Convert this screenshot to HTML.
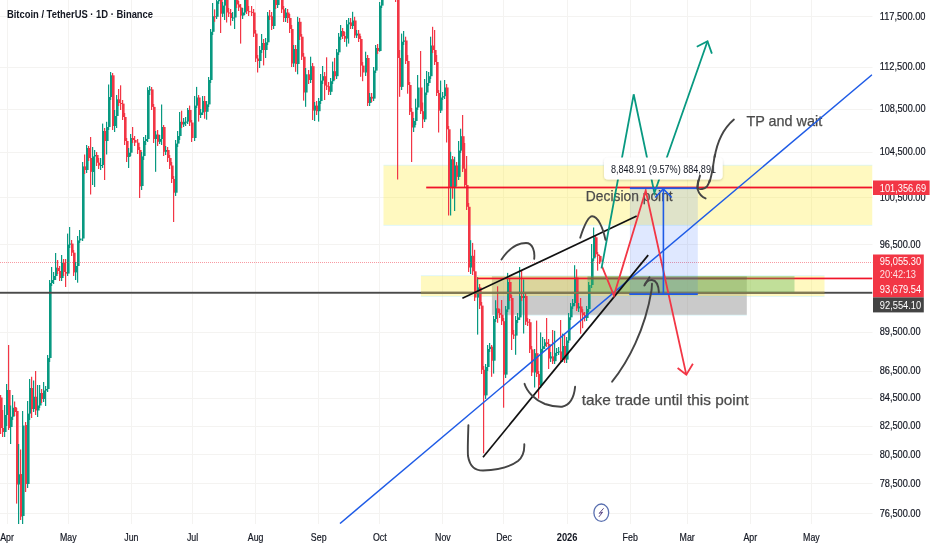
<!DOCTYPE html><html><head><meta charset="utf-8"><style>
html,body{margin:0;padding:0;background:#fff;width:932px;height:550px;overflow:hidden}
svg{display:block;will-change:transform}
text{font-family:"Liberation Sans",sans-serif}
</style></head><body>
<svg width="932" height="550" viewBox="0 0 932 550">
<defs><clipPath id="pane"><rect x="0" y="0" width="872.5" height="524"/></clipPath>
<filter id="sh" x="-10%" y="-30%" width="120%" height="160%"><feDropShadow dx="0" dy="1" stdDeviation="1.2" flood-color="#000" flood-opacity="0.18"/></filter></defs>
<rect width="932" height="550" fill="#fff"/>

<rect x="0" y="16" width="872.5" height="1" fill="#f4f3f1"/><rect x="0" y="67" width="872.5" height="1" fill="#f4f3f1"/><rect x="0" y="109" width="872.5" height="1" fill="#f4f3f1"/><rect x="0" y="152" width="872.5" height="1" fill="#f4f3f1"/><rect x="0" y="197" width="872.5" height="1" fill="#f4f3f1"/><rect x="0" y="244" width="872.5" height="1" fill="#f4f3f1"/><rect x="0" y="293" width="872.5" height="1" fill="#f4f3f1"/><rect x="0" y="332" width="872.5" height="1" fill="#f4f3f1"/><rect x="0" y="371" width="872.5" height="1" fill="#f4f3f1"/><rect x="0" y="398" width="872.5" height="1" fill="#f4f3f1"/><rect x="0" y="426" width="872.5" height="1" fill="#f4f3f1"/><rect x="0" y="454" width="872.5" height="1" fill="#f4f3f1"/><rect x="0" y="483" width="872.5" height="1" fill="#f4f3f1"/><rect x="0" y="513" width="872.5" height="1" fill="#f4f3f1"/><rect x="7" y="0" width="1" height="524" fill="#f4f3f1"/><rect x="68" y="0" width="1" height="524" fill="#f4f3f1"/><rect x="131" y="0" width="1" height="524" fill="#f4f3f1"/><rect x="192" y="0" width="1" height="524" fill="#f4f3f1"/><rect x="255" y="0" width="1" height="524" fill="#f4f3f1"/><rect x="318" y="0" width="1" height="524" fill="#f4f3f1"/><rect x="379" y="0" width="1" height="524" fill="#f4f3f1"/><rect x="442" y="0" width="1" height="524" fill="#f4f3f1"/><rect x="503" y="0" width="1" height="524" fill="#f4f3f1"/><rect x="567" y="0" width="1" height="524" fill="#f4f3f1"/><rect x="630" y="0" width="1" height="524" fill="#f4f3f1"/><rect x="687" y="0" width="1" height="524" fill="#f4f3f1"/><rect x="750" y="0" width="1" height="524" fill="#f4f3f1"/><rect x="811" y="0" width="1" height="524" fill="#f4f3f1"/>
<text x="6.9" y="18.4" font-size="11" font-weight="bold" fill="#131722" textLength="146.2" lengthAdjust="spacingAndGlyphs">Bitcoin / TetherUS · 1D · Binance</text>
<g clip-path="url(#pane)">
<rect x="383.5" y="165.5" width="489.0" height="59.4" fill="rgba(255,235,59,0.32)"/>
<rect x="383.5" y="164.8" width="489.0" height="0.8" fill="rgba(128,222,234,0.30)"/>
<rect x="383.5" y="224.9" width="489.0" height="0.8" fill="rgba(128,222,234,0.30)"/>
<rect x="491.9" y="276" width="254.89999999999998" height="38.80000000000001" fill="rgba(128,128,128,0.42)"/>
<rect x="491.9" y="314.8" width="254.89999999999998" height="0.8" fill="rgba(128,222,234,0.30)"/>
<rect x="420.9" y="276" width="403.6" height="20.1" fill="rgba(255,235,59,0.32)"/>
<rect x="420.9" y="275.3" width="403.6" height="0.8" fill="rgba(128,222,234,0.30)"/>
<rect x="420.9" y="296.1" width="403.6" height="0.8" fill="rgba(128,222,234,0.30)"/>
<g><rect x="-2" y="395.79" width="1.2" height="6.85" fill="#089981"/><rect x="-2" y="397.50" width="2.6" height="2.50" fill="#089981"/><rect x="0" y="395.00" width="1.2" height="39.00" fill="#f23645"/><rect x="0" y="397.50" width="2.6" height="30.50" fill="#f23645"/><rect x="2" y="410.00" width="1.2" height="27.00" fill="#f23645"/><rect x="2" y="428.00" width="2.6" height="4.00" fill="#f23645"/><rect x="4" y="405.00" width="1.2" height="32.00" fill="#089981"/><rect x="4" y="415.00" width="2.6" height="17.00" fill="#089981"/><rect x="6" y="384.00" width="1.2" height="42.00" fill="#089981"/><rect x="6" y="390.00" width="2.6" height="25.00" fill="#089981"/><rect x="8" y="345.00" width="1.2" height="85.00" fill="#f23645"/><rect x="8" y="390.00" width="2.6" height="38.00" fill="#f23645"/><rect x="10" y="405.50" width="1.2" height="38.50" fill="#089981"/><rect x="10" y="416.75" width="2.6" height="10.25" fill="#089981"/><rect x="12" y="395.00" width="1.2" height="25.00" fill="#089981"/><rect x="12" y="407.75" width="2.6" height="9.00" fill="#089981"/><rect x="14" y="401.50" width="1.2" height="14.50" fill="#f23645"/><rect x="14" y="407.00" width="2.6" height="5.00" fill="#f23645"/><rect x="16" y="408.00" width="1.2" height="95.60" fill="#f23645"/><rect x="16" y="411.00" width="2.6" height="73.50" fill="#f23645"/><rect x="18" y="444.00" width="1.2" height="86.00" fill="#089981"/><rect x="18" y="474.30" width="2.6" height="10.20" fill="#089981"/><rect x="20" y="449.50" width="1.2" height="70.50" fill="#f23645"/><rect x="20" y="474.00" width="2.6" height="42.60" fill="#f23645"/><rect x="22" y="411.00" width="1.2" height="119.00" fill="#089981"/><rect x="22" y="425.50" width="2.6" height="90.50" fill="#089981"/><rect x="25" y="422.00" width="1.2" height="70.00" fill="#f23645"/><rect x="25" y="425.00" width="2.6" height="59.00" fill="#f23645"/><rect x="27" y="401.00" width="1.2" height="87.00" fill="#089981"/><rect x="27" y="413.60" width="2.6" height="70.40" fill="#089981"/><rect x="29" y="379.00" width="1.2" height="41.00" fill="#089981"/><rect x="29" y="388.00" width="2.6" height="25.60" fill="#089981"/><rect x="31" y="376.75" width="1.2" height="41.25" fill="#f23645"/><rect x="31" y="388.00" width="2.6" height="21.00" fill="#f23645"/><rect x="33" y="380.50" width="1.2" height="31.50" fill="#089981"/><rect x="33" y="396.75" width="2.6" height="12.25" fill="#089981"/><rect x="35" y="371.00" width="1.2" height="44.00" fill="#f23645"/><rect x="35" y="396.75" width="2.6" height="13.75" fill="#f23645"/><rect x="37" y="385.00" width="1.2" height="32.00" fill="#089981"/><rect x="37" y="405.50" width="2.6" height="5.00" fill="#089981"/><rect x="39" y="385.00" width="1.2" height="23.00" fill="#089981"/><rect x="39" y="393.00" width="2.6" height="12.50" fill="#089981"/><rect x="41" y="389.00" width="1.2" height="14.00" fill="#f23645"/><rect x="41" y="393.00" width="2.6" height="6.00" fill="#f23645"/><rect x="43" y="382.00" width="1.2" height="20.00" fill="#089981"/><rect x="43" y="390.50" width="2.6" height="8.50" fill="#089981"/><rect x="45" y="386.00" width="1.2" height="20.00" fill="#089981"/><rect x="45" y="389.00" width="2.6" height="1.50" fill="#089981"/><rect x="47" y="355.00" width="1.2" height="37.00" fill="#089981"/><rect x="47" y="358.00" width="2.6" height="31.00" fill="#089981"/><rect x="49" y="280.00" width="1.2" height="82.00" fill="#089981"/><rect x="49" y="283.00" width="2.6" height="75.00" fill="#089981"/><rect x="51" y="267.00" width="1.2" height="19.00" fill="#089981"/><rect x="51" y="280.00" width="2.6" height="3.00" fill="#089981"/><rect x="53" y="272.00" width="1.2" height="12.00" fill="#089981"/><rect x="53" y="276.00" width="2.6" height="4.00" fill="#089981"/><rect x="55" y="253.00" width="1.2" height="27.00" fill="#089981"/><rect x="55" y="267.60" width="2.6" height="8.40" fill="#089981"/><rect x="57" y="260.00" width="1.2" height="14.00" fill="#f23645"/><rect x="57" y="268.00" width="2.6" height="3.00" fill="#f23645"/><rect x="59" y="266.00" width="1.2" height="15.00" fill="#f23645"/><rect x="59" y="271.00" width="2.6" height="7.00" fill="#f23645"/><rect x="61" y="255.00" width="1.2" height="26.00" fill="#089981"/><rect x="61" y="263.00" width="2.6" height="15.00" fill="#089981"/><rect x="63" y="259.00" width="1.2" height="17.00" fill="#f23645"/><rect x="63" y="263.00" width="2.6" height="9.00" fill="#f23645"/><rect x="65" y="259.00" width="1.2" height="28.00" fill="#f23645"/><rect x="65" y="272.00" width="2.6" height="1.60" fill="#f23645"/><rect x="67" y="233.60" width="1.2" height="42.40" fill="#089981"/><rect x="67" y="244.50" width="2.6" height="29.10" fill="#089981"/><rect x="69" y="227.00" width="1.2" height="21.00" fill="#089981"/><rect x="69" y="243.60" width="2.6" height="1.00" fill="#089981"/><rect x="71" y="240.00" width="1.2" height="16.00" fill="#f23645"/><rect x="71" y="243.60" width="2.6" height="9.10" fill="#f23645"/><rect x="73" y="250.00" width="1.2" height="26.00" fill="#f23645"/><rect x="73" y="252.70" width="2.6" height="19.70" fill="#f23645"/><rect x="75" y="262.00" width="1.2" height="18.00" fill="#089981"/><rect x="75" y="266.00" width="2.6" height="6.40" fill="#089981"/><rect x="77" y="236.00" width="1.2" height="46.70" fill="#089981"/><rect x="77" y="240.40" width="2.6" height="25.60" fill="#089981"/><rect x="79" y="230.00" width="1.2" height="13.00" fill="#089981"/><rect x="79" y="238.50" width="2.6" height="1.90" fill="#089981"/><rect x="82" y="162.00" width="1.2" height="79.00" fill="#089981"/><rect x="82" y="166.40" width="2.6" height="72.10" fill="#089981"/><rect x="84" y="154.50" width="1.2" height="19.50" fill="#f23645"/><rect x="84" y="166.40" width="2.6" height="3.60" fill="#f23645"/><rect x="86" y="145.00" width="1.2" height="28.00" fill="#089981"/><rect x="86" y="148.00" width="2.6" height="22.00" fill="#089981"/><rect x="88" y="146.00" width="1.2" height="15.00" fill="#f23645"/><rect x="88" y="148.00" width="2.6" height="10.00" fill="#f23645"/><rect x="90" y="137.00" width="1.2" height="57.50" fill="#f23645"/><rect x="90" y="158.00" width="2.6" height="13.80" fill="#f23645"/><rect x="92" y="147.00" width="1.2" height="38.00" fill="#089981"/><rect x="92" y="156.40" width="2.6" height="15.60" fill="#089981"/><rect x="94" y="150.00" width="1.2" height="37.00" fill="#089981"/><rect x="94" y="155.00" width="2.6" height="1.40" fill="#089981"/><rect x="96" y="152.00" width="1.2" height="14.00" fill="#f23645"/><rect x="96" y="155.00" width="2.6" height="7.70" fill="#f23645"/><rect x="98" y="158.00" width="1.2" height="11.00" fill="#f23645"/><rect x="98" y="162.70" width="2.6" height="2.80" fill="#f23645"/><rect x="100" y="158.00" width="1.2" height="12.00" fill="#089981"/><rect x="100" y="165.00" width="2.6" height="1.00" fill="#089981"/><rect x="102" y="123.60" width="1.2" height="44.40" fill="#089981"/><rect x="102" y="131.00" width="2.6" height="34.00" fill="#089981"/><rect x="104" y="128.00" width="1.2" height="52.00" fill="#f23645"/><rect x="104" y="131.00" width="2.6" height="10.00" fill="#f23645"/><rect x="106" y="121.80" width="1.2" height="32.70" fill="#089981"/><rect x="106" y="127.00" width="2.6" height="14.00" fill="#089981"/><rect x="108" y="84.50" width="1.2" height="45.50" fill="#089981"/><rect x="108" y="97.00" width="2.6" height="30.00" fill="#089981"/><rect x="110" y="72.00" width="1.2" height="28.00" fill="#089981"/><rect x="110" y="75.30" width="2.6" height="21.70" fill="#089981"/><rect x="112" y="73.00" width="1.2" height="57.00" fill="#f23645"/><rect x="112" y="75.30" width="2.6" height="50.70" fill="#f23645"/><rect x="114" y="110.00" width="1.2" height="22.00" fill="#089981"/><rect x="114" y="116.00" width="2.6" height="10.00" fill="#089981"/><rect x="116" y="95.00" width="1.2" height="33.00" fill="#089981"/><rect x="116" y="99.30" width="2.6" height="16.70" fill="#089981"/><rect x="118" y="89.00" width="1.2" height="17.00" fill="#f23645"/><rect x="118" y="99.30" width="2.6" height="3.70" fill="#f23645"/><rect x="120" y="85.30" width="1.2" height="24.70" fill="#f23645"/><rect x="120" y="103.00" width="2.6" height="1.00" fill="#f23645"/><rect x="122" y="100.00" width="1.2" height="20.00" fill="#f23645"/><rect x="122" y="103.60" width="2.6" height="13.40" fill="#f23645"/><rect x="124" y="113.00" width="1.2" height="32.00" fill="#f23645"/><rect x="124" y="117.00" width="2.6" height="24.00" fill="#f23645"/><rect x="126" y="138.00" width="1.2" height="24.00" fill="#f23645"/><rect x="126" y="141.00" width="2.6" height="16.00" fill="#f23645"/><rect x="128" y="148.00" width="1.2" height="20.00" fill="#089981"/><rect x="128" y="152.70" width="2.6" height="4.30" fill="#089981"/><rect x="130" y="134.00" width="1.2" height="22.00" fill="#089981"/><rect x="130" y="138.00" width="2.6" height="14.70" fill="#089981"/><rect x="132" y="127.00" width="1.2" height="16.00" fill="#f23645"/><rect x="132" y="138.00" width="2.6" height="2.00" fill="#f23645"/><rect x="134" y="136.00" width="1.2" height="10.00" fill="#f23645"/><rect x="134" y="140.00" width="2.6" height="2.70" fill="#f23645"/><rect x="137" y="139.00" width="1.2" height="15.00" fill="#f23645"/><rect x="137" y="142.70" width="2.6" height="7.30" fill="#f23645"/><rect x="139" y="147.00" width="1.2" height="51.00" fill="#f23645"/><rect x="139" y="150.00" width="2.6" height="36.40" fill="#f23645"/><rect x="141" y="152.00" width="1.2" height="38.00" fill="#089981"/><rect x="141" y="156.40" width="2.6" height="29.60" fill="#089981"/><rect x="143" y="137.00" width="1.2" height="23.00" fill="#089981"/><rect x="143" y="141.00" width="2.6" height="15.00" fill="#089981"/><rect x="145" y="135.00" width="1.2" height="10.00" fill="#089981"/><rect x="145" y="139.00" width="2.6" height="2.00" fill="#089981"/><rect x="147" y="87.30" width="1.2" height="54.70" fill="#089981"/><rect x="147" y="90.00" width="2.6" height="49.00" fill="#089981"/><rect x="149" y="86.00" width="1.2" height="9.00" fill="#089981"/><rect x="149" y="89.40" width="2.6" height="1.00" fill="#089981"/><rect x="151" y="87.00" width="1.2" height="23.00" fill="#f23645"/><rect x="151" y="89.40" width="2.6" height="17.50" fill="#f23645"/><rect x="153" y="104.00" width="1.2" height="39.00" fill="#f23645"/><rect x="153" y="106.90" width="2.6" height="32.10" fill="#f23645"/><rect x="155" y="131.00" width="1.2" height="40.80" fill="#089981"/><rect x="155" y="134.50" width="2.6" height="4.50" fill="#089981"/><rect x="157" y="130.00" width="1.2" height="16.00" fill="#f23645"/><rect x="157" y="134.50" width="2.6" height="7.30" fill="#f23645"/><rect x="159" y="135.00" width="1.2" height="9.00" fill="#089981"/><rect x="159" y="139.00" width="2.6" height="2.80" fill="#089981"/><rect x="161" y="104.50" width="1.2" height="40.50" fill="#089981"/><rect x="161" y="127.00" width="2.6" height="12.00" fill="#089981"/><rect x="163" y="125.00" width="1.2" height="31.00" fill="#f23645"/><rect x="163" y="127.00" width="2.6" height="24.80" fill="#f23645"/><rect x="165" y="146.00" width="1.2" height="9.00" fill="#089981"/><rect x="165" y="150.00" width="2.6" height="1.80" fill="#089981"/><rect x="167" y="147.00" width="1.2" height="15.00" fill="#f23645"/><rect x="167" y="150.00" width="2.6" height="8.00" fill="#f23645"/><rect x="169" y="155.00" width="1.2" height="14.00" fill="#f23645"/><rect x="169" y="158.00" width="2.6" height="7.50" fill="#f23645"/><rect x="171" y="162.00" width="1.2" height="21.00" fill="#f23645"/><rect x="171" y="165.50" width="2.6" height="13.50" fill="#f23645"/><rect x="173" y="176.00" width="1.2" height="46.00" fill="#f23645"/><rect x="173" y="179.00" width="2.6" height="13.70" fill="#f23645"/><rect x="175" y="140.00" width="1.2" height="56.00" fill="#089981"/><rect x="175" y="143.60" width="2.6" height="49.10" fill="#089981"/><rect x="177" y="131.00" width="1.2" height="16.00" fill="#089981"/><rect x="177" y="136.00" width="2.6" height="7.60" fill="#089981"/><rect x="179" y="112.00" width="1.2" height="28.00" fill="#089981"/><rect x="179" y="121.80" width="2.6" height="14.20" fill="#089981"/><rect x="181" y="110.70" width="1.2" height="17.30" fill="#f23645"/><rect x="181" y="121.80" width="2.6" height="2.70" fill="#f23645"/><rect x="183" y="118.00" width="1.2" height="9.00" fill="#089981"/><rect x="183" y="121.80" width="2.6" height="2.70" fill="#089981"/><rect x="185" y="117.00" width="1.2" height="9.00" fill="#089981"/><rect x="185" y="121.60" width="2.6" height="1.00" fill="#089981"/><rect x="187" y="108.00" width="1.2" height="16.00" fill="#089981"/><rect x="187" y="110.00" width="2.6" height="11.60" fill="#089981"/><rect x="189" y="105.60" width="1.2" height="20.40" fill="#f23645"/><rect x="189" y="110.00" width="2.6" height="12.50" fill="#f23645"/><rect x="191" y="120.00" width="1.2" height="22.00" fill="#f23645"/><rect x="191" y="122.50" width="2.6" height="15.50" fill="#f23645"/><rect x="194" y="96.00" width="1.2" height="45.00" fill="#089981"/><rect x="194" y="105.60" width="2.6" height="32.40" fill="#089981"/><rect x="196" y="86.90" width="1.2" height="21.10" fill="#089981"/><rect x="196" y="97.50" width="2.6" height="8.10" fill="#089981"/><rect x="198" y="95.00" width="1.2" height="26.60" fill="#f23645"/><rect x="198" y="97.50" width="2.6" height="17.50" fill="#f23645"/><rect x="200" y="109.00" width="1.2" height="9.00" fill="#089981"/><rect x="200" y="112.50" width="2.6" height="2.50" fill="#089981"/><rect x="202" y="96.00" width="1.2" height="19.00" fill="#089981"/><rect x="202" y="101.00" width="2.6" height="11.50" fill="#089981"/><rect x="204" y="96.00" width="1.2" height="22.70" fill="#f23645"/><rect x="204" y="101.00" width="2.6" height="10.80" fill="#f23645"/><rect x="206" y="101.00" width="1.2" height="18.70" fill="#089981"/><rect x="206" y="104.40" width="2.6" height="7.40" fill="#089981"/><rect x="208" y="77.00" width="1.2" height="30.00" fill="#089981"/><rect x="208" y="80.00" width="2.6" height="24.40" fill="#089981"/><rect x="210" y="29.00" width="1.2" height="54.00" fill="#089981"/><rect x="210" y="31.80" width="2.6" height="48.20" fill="#089981"/><rect x="212" y="3.00" width="1.2" height="32.00" fill="#089981"/><rect x="212" y="16.20" width="2.6" height="15.60" fill="#089981"/><rect x="214" y="9.40" width="1.2" height="12.40" fill="#f23645"/><rect x="214" y="16.20" width="2.6" height="1.00" fill="#f23645"/><rect x="216" y="-3.00" width="1.2" height="22.00" fill="#089981"/><rect x="216" y="1.20" width="2.6" height="15.60" fill="#089981"/><rect x="218" y="-12.00" width="1.2" height="16.00" fill="#089981"/><rect x="218" y="-7.50" width="2.6" height="8.70" fill="#089981"/><rect x="220" y="-10.00" width="1.2" height="43.00" fill="#f23645"/><rect x="220" y="-7.50" width="2.6" height="21.20" fill="#f23645"/><rect x="222" y="2.00" width="1.2" height="15.00" fill="#089981"/><rect x="222" y="5.60" width="2.6" height="8.10" fill="#089981"/><rect x="224" y="-5.00" width="1.2" height="25.00" fill="#089981"/><rect x="224" y="-1.70" width="2.6" height="7.30" fill="#089981"/><rect x="226" y="-4.00" width="1.2" height="26.50" fill="#f23645"/><rect x="226" y="-1.70" width="2.6" height="14.20" fill="#f23645"/><rect x="228" y="8.00" width="1.2" height="9.00" fill="#f23645"/><rect x="228" y="12.50" width="2.6" height="1.00" fill="#f23645"/><rect x="230" y="9.00" width="1.2" height="16.60" fill="#f23645"/><rect x="230" y="13.00" width="2.6" height="5.00" fill="#f23645"/><rect x="232" y="12.00" width="1.2" height="9.00" fill="#089981"/><rect x="232" y="17.50" width="2.6" height="1.00" fill="#089981"/><rect x="234" y="-14.00" width="1.2" height="43.00" fill="#089981"/><rect x="234" y="-10.00" width="2.6" height="27.50" fill="#089981"/><rect x="236" y="-12.00" width="1.2" height="20.00" fill="#f23645"/><rect x="236" y="-10.00" width="2.6" height="14.40" fill="#f23645"/><rect x="238" y="1.00" width="1.2" height="10.00" fill="#f23645"/><rect x="238" y="4.40" width="2.6" height="3.10" fill="#f23645"/><rect x="240" y="4.00" width="1.2" height="39.60" fill="#f23645"/><rect x="240" y="7.50" width="2.6" height="8.10" fill="#f23645"/><rect x="242" y="8.00" width="1.2" height="11.00" fill="#089981"/><rect x="242" y="12.50" width="2.6" height="3.10" fill="#089981"/><rect x="244" y="-7.00" width="1.2" height="22.00" fill="#089981"/><rect x="244" y="-3.60" width="2.6" height="16.10" fill="#089981"/><rect x="246" y="-6.00" width="1.2" height="20.00" fill="#f23645"/><rect x="246" y="-3.60" width="2.6" height="14.80" fill="#f23645"/><rect x="248" y="6.00" width="1.2" height="10.00" fill="#f23645"/><rect x="248" y="11.20" width="2.6" height="1.00" fill="#f23645"/><rect x="251" y="6.00" width="1.2" height="10.00" fill="#f23645"/><rect x="251" y="11.90" width="2.6" height="1.00" fill="#f23645"/><rect x="253" y="9.00" width="1.2" height="28.00" fill="#f23645"/><rect x="253" y="12.50" width="2.6" height="21.10" fill="#f23645"/><rect x="255" y="30.00" width="1.2" height="32.00" fill="#f23645"/><rect x="255" y="33.60" width="2.6" height="24.90" fill="#f23645"/><rect x="257" y="55.00" width="1.2" height="17.50" fill="#f23645"/><rect x="257" y="58.50" width="2.6" height="2.50" fill="#f23645"/><rect x="259" y="46.00" width="1.2" height="22.00" fill="#089981"/><rect x="259" y="50.00" width="2.6" height="11.00" fill="#089981"/><rect x="261" y="34.00" width="1.2" height="19.00" fill="#089981"/><rect x="261" y="43.00" width="2.6" height="7.00" fill="#089981"/><rect x="263" y="39.00" width="1.2" height="26.40" fill="#f23645"/><rect x="263" y="43.00" width="2.6" height="7.00" fill="#f23645"/><rect x="265" y="38.00" width="1.2" height="20.00" fill="#089981"/><rect x="265" y="42.30" width="2.6" height="7.70" fill="#089981"/><rect x="267" y="12.00" width="1.2" height="33.00" fill="#089981"/><rect x="267" y="15.60" width="2.6" height="26.70" fill="#089981"/><rect x="269" y="10.00" width="1.2" height="10.00" fill="#f23645"/><rect x="269" y="15.60" width="2.6" height="1.00" fill="#f23645"/><rect x="271" y="12.00" width="1.2" height="18.00" fill="#f23645"/><rect x="271" y="16.20" width="2.6" height="9.80" fill="#f23645"/><rect x="273" y="-6.00" width="1.2" height="35.00" fill="#089981"/><rect x="273" y="-2.60" width="2.6" height="28.60" fill="#089981"/><rect x="275" y="-6.00" width="1.2" height="15.00" fill="#f23645"/><rect x="275" y="-2.60" width="2.6" height="7.60" fill="#f23645"/><rect x="277" y="-15.00" width="1.2" height="23.00" fill="#089981"/><rect x="277" y="-11.70" width="2.6" height="16.70" fill="#089981"/><rect x="279" y="-50.00" width="1.2" height="42.00" fill="#089981"/><rect x="279" y="-41.00" width="2.6" height="29.30" fill="#089981"/><rect x="281" y="-45.00" width="1.2" height="58.00" fill="#f23645"/><rect x="281" y="-41.00" width="2.6" height="50.40" fill="#f23645"/><rect x="283" y="6.00" width="1.2" height="16.00" fill="#f23645"/><rect x="283" y="9.40" width="2.6" height="8.60" fill="#f23645"/><rect x="285" y="8.00" width="1.2" height="14.00" fill="#089981"/><rect x="285" y="12.50" width="2.6" height="5.50" fill="#089981"/><rect x="287" y="9.00" width="1.2" height="14.00" fill="#f23645"/><rect x="287" y="12.50" width="2.6" height="5.50" fill="#f23645"/><rect x="289" y="14.00" width="1.2" height="19.00" fill="#f23645"/><rect x="289" y="18.00" width="2.6" height="11.00" fill="#f23645"/><rect x="291" y="25.00" width="1.2" height="42.00" fill="#f23645"/><rect x="291" y="29.00" width="2.6" height="34.50" fill="#f23645"/><rect x="293" y="45.00" width="1.2" height="22.00" fill="#089981"/><rect x="293" y="49.00" width="2.6" height="14.50" fill="#089981"/><rect x="295" y="45.00" width="1.2" height="26.80" fill="#f23645"/><rect x="295" y="49.00" width="2.6" height="15.00" fill="#f23645"/><rect x="297" y="16.80" width="1.2" height="57.50" fill="#089981"/><rect x="297" y="21.80" width="2.6" height="42.20" fill="#089981"/><rect x="299" y="18.00" width="1.2" height="22.00" fill="#f23645"/><rect x="299" y="21.80" width="2.6" height="14.90" fill="#f23645"/><rect x="301" y="34.00" width="1.2" height="26.00" fill="#f23645"/><rect x="301" y="36.70" width="2.6" height="20.00" fill="#f23645"/><rect x="303" y="53.00" width="1.2" height="47.60" fill="#f23645"/><rect x="303" y="56.70" width="2.6" height="35.80" fill="#f23645"/><rect x="305" y="68.00" width="1.2" height="38.80" fill="#089981"/><rect x="305" y="74.30" width="2.6" height="18.20" fill="#089981"/><rect x="308" y="70.00" width="1.2" height="14.00" fill="#f23645"/><rect x="308" y="74.30" width="2.6" height="5.70" fill="#f23645"/><rect x="310" y="56.70" width="1.2" height="26.30" fill="#089981"/><rect x="310" y="66.20" width="2.6" height="13.80" fill="#089981"/><rect x="312" y="63.00" width="1.2" height="57.00" fill="#f23645"/><rect x="312" y="66.20" width="2.6" height="44.40" fill="#f23645"/><rect x="314" y="102.00" width="1.2" height="19.00" fill="#089981"/><rect x="314" y="105.60" width="2.6" height="5.00" fill="#089981"/><rect x="316" y="101.00" width="1.2" height="14.00" fill="#f23645"/><rect x="316" y="105.60" width="2.6" height="5.60" fill="#f23645"/><rect x="318" y="98.00" width="1.2" height="23.60" fill="#089981"/><rect x="318" y="101.00" width="2.6" height="10.20" fill="#089981"/><rect x="320" y="74.00" width="1.2" height="30.00" fill="#089981"/><rect x="320" y="80.60" width="2.6" height="20.40" fill="#089981"/><rect x="322" y="66.00" width="1.2" height="18.00" fill="#089981"/><rect x="322" y="76.20" width="2.6" height="4.40" fill="#089981"/><rect x="324" y="72.00" width="1.2" height="28.00" fill="#f23645"/><rect x="324" y="76.20" width="2.6" height="9.40" fill="#f23645"/><rect x="326" y="57.30" width="1.2" height="32.70" fill="#f23645"/><rect x="326" y="85.60" width="2.6" height="1.00" fill="#f23645"/><rect x="328" y="82.00" width="1.2" height="13.00" fill="#f23645"/><rect x="328" y="86.20" width="2.6" height="5.60" fill="#f23645"/><rect x="330" y="78.00" width="1.2" height="17.00" fill="#089981"/><rect x="330" y="81.20" width="2.6" height="10.60" fill="#089981"/><rect x="332" y="61.60" width="1.2" height="22.40" fill="#089981"/><rect x="332" y="71.20" width="2.6" height="10.00" fill="#089981"/><rect x="334" y="57.90" width="1.2" height="22.10" fill="#f23645"/><rect x="334" y="71.20" width="2.6" height="5.00" fill="#f23645"/><rect x="336" y="49.00" width="1.2" height="30.00" fill="#089981"/><rect x="336" y="52.30" width="2.6" height="23.90" fill="#089981"/><rect x="338" y="33.00" width="1.2" height="22.00" fill="#089981"/><rect x="338" y="36.70" width="2.6" height="15.60" fill="#089981"/><rect x="340" y="25.00" width="1.2" height="15.00" fill="#089981"/><rect x="340" y="31.00" width="2.6" height="5.70" fill="#089981"/><rect x="342" y="28.00" width="1.2" height="11.00" fill="#f23645"/><rect x="342" y="31.00" width="2.6" height="5.00" fill="#f23645"/><rect x="344" y="32.00" width="1.2" height="10.00" fill="#f23645"/><rect x="344" y="36.00" width="2.6" height="2.60" fill="#f23645"/><rect x="346" y="20.00" width="1.2" height="26.70" fill="#089981"/><rect x="346" y="24.30" width="2.6" height="14.30" fill="#089981"/><rect x="348" y="18.00" width="1.2" height="25.60" fill="#089981"/><rect x="348" y="22.40" width="2.6" height="1.90" fill="#089981"/><rect x="350" y="18.00" width="1.2" height="11.00" fill="#f23645"/><rect x="350" y="22.40" width="2.6" height="3.60" fill="#f23645"/><rect x="352" y="11.80" width="1.2" height="17.20" fill="#089981"/><rect x="352" y="20.50" width="2.6" height="5.50" fill="#089981"/><rect x="354" y="16.80" width="1.2" height="21.20" fill="#f23645"/><rect x="354" y="20.50" width="2.6" height="15.00" fill="#f23645"/><rect x="356" y="30.00" width="1.2" height="8.00" fill="#089981"/><rect x="356" y="33.60" width="2.6" height="1.90" fill="#089981"/><rect x="358" y="30.00" width="1.2" height="12.00" fill="#f23645"/><rect x="358" y="33.60" width="2.6" height="5.40" fill="#f23645"/><rect x="360" y="36.00" width="1.2" height="40.80" fill="#f23645"/><rect x="360" y="39.00" width="2.6" height="26.60" fill="#f23645"/><rect x="362" y="62.00" width="1.2" height="19.20" fill="#f23645"/><rect x="362" y="65.60" width="2.6" height="6.90" fill="#f23645"/><rect x="365" y="51.70" width="1.2" height="24.30" fill="#089981"/><rect x="365" y="58.00" width="2.6" height="14.50" fill="#089981"/><rect x="367" y="55.00" width="1.2" height="51.00" fill="#f23645"/><rect x="367" y="58.00" width="2.6" height="45.00" fill="#f23645"/><rect x="369" y="93.00" width="1.2" height="13.00" fill="#089981"/><rect x="369" y="96.80" width="2.6" height="6.20" fill="#089981"/><rect x="371" y="93.00" width="1.2" height="9.00" fill="#f23645"/><rect x="371" y="96.80" width="2.6" height="1.80" fill="#f23645"/><rect x="373" y="67.00" width="1.2" height="34.00" fill="#089981"/><rect x="373" y="70.60" width="2.6" height="28.00" fill="#089981"/><rect x="375" y="45.00" width="1.2" height="28.00" fill="#089981"/><rect x="375" y="48.00" width="2.6" height="22.60" fill="#089981"/><rect x="377" y="44.00" width="1.2" height="10.00" fill="#f23645"/><rect x="377" y="48.00" width="2.6" height="3.00" fill="#f23645"/><rect x="379" y="2.00" width="1.2" height="49.70" fill="#089981"/><rect x="379" y="5.60" width="2.6" height="45.40" fill="#089981"/><rect x="381" y="-18.00" width="1.2" height="26.00" fill="#089981"/><rect x="381" y="-14.00" width="2.6" height="19.60" fill="#089981"/><rect x="383" y="-34.00" width="1.2" height="24.00" fill="#089981"/><rect x="383" y="-30.00" width="2.6" height="16.00" fill="#089981"/><rect x="385" y="-36.00" width="1.2" height="11.00" fill="#089981"/><rect x="385" y="-30.00" width="2.6" height="1.00" fill="#089981"/><rect x="387" y="-45.00" width="1.2" height="19.00" fill="#089981"/><rect x="387" y="-40.00" width="2.6" height="10.00" fill="#089981"/><rect x="389" y="-60.00" width="1.2" height="25.00" fill="#089981"/><rect x="389" y="-50.00" width="2.6" height="10.00" fill="#089981"/><rect x="391" y="-55.00" width="1.2" height="40.00" fill="#f23645"/><rect x="391" y="-50.00" width="2.6" height="28.00" fill="#f23645"/><rect x="393" y="-42.00" width="1.2" height="24.00" fill="#089981"/><rect x="393" y="-38.00" width="2.6" height="16.00" fill="#089981"/><rect x="395" y="-42.00" width="1.2" height="44.00" fill="#f23645"/><rect x="395" y="-38.00" width="2.6" height="36.70" fill="#f23645"/><rect x="397" y="-8.00" width="1.2" height="187.50" fill="#f23645"/><rect x="397" y="-1.30" width="2.6" height="59.30" fill="#f23645"/><rect x="399" y="50.00" width="1.2" height="46.80" fill="#f23645"/><rect x="399" y="58.00" width="2.6" height="28.90" fill="#f23645"/><rect x="401" y="33.60" width="1.2" height="56.40" fill="#089981"/><rect x="401" y="41.70" width="2.6" height="45.20" fill="#089981"/><rect x="403" y="31.00" width="1.2" height="14.00" fill="#089981"/><rect x="403" y="40.50" width="2.6" height="1.20" fill="#089981"/><rect x="405" y="36.70" width="1.2" height="27.30" fill="#f23645"/><rect x="405" y="40.50" width="2.6" height="20.50" fill="#f23645"/><rect x="407" y="55.00" width="1.2" height="38.70" fill="#f23645"/><rect x="407" y="61.00" width="2.6" height="24.00" fill="#f23645"/><rect x="409" y="82.00" width="1.2" height="33.00" fill="#f23645"/><rect x="409" y="85.00" width="2.6" height="26.80" fill="#f23645"/><rect x="411" y="108.00" width="1.2" height="54.00" fill="#f23645"/><rect x="411" y="111.80" width="2.6" height="15.70" fill="#f23645"/><rect x="413" y="118.00" width="1.2" height="14.00" fill="#089981"/><rect x="413" y="121.00" width="2.6" height="6.50" fill="#089981"/><rect x="415" y="98.70" width="1.2" height="26.30" fill="#089981"/><rect x="415" y="107.50" width="2.6" height="13.50" fill="#089981"/><rect x="417" y="75.00" width="1.2" height="35.00" fill="#089981"/><rect x="417" y="87.50" width="2.6" height="20.00" fill="#089981"/><rect x="420" y="51.00" width="1.2" height="63.00" fill="#f23645"/><rect x="420" y="87.50" width="2.6" height="23.70" fill="#f23645"/><rect x="422" y="102.50" width="1.2" height="25.50" fill="#f23645"/><rect x="422" y="111.20" width="2.6" height="8.20" fill="#f23645"/><rect x="424" y="79.00" width="1.2" height="43.00" fill="#089981"/><rect x="424" y="92.50" width="2.6" height="26.90" fill="#089981"/><rect x="426" y="71.00" width="1.2" height="24.00" fill="#089981"/><rect x="426" y="83.00" width="2.6" height="9.50" fill="#089981"/><rect x="428" y="72.00" width="1.2" height="14.00" fill="#089981"/><rect x="428" y="76.20" width="2.6" height="6.80" fill="#089981"/><rect x="430" y="36.70" width="1.2" height="42.30" fill="#089981"/><rect x="430" y="45.50" width="2.6" height="30.70" fill="#089981"/><rect x="432" y="26.80" width="1.2" height="26.20" fill="#f23645"/><rect x="432" y="45.50" width="2.6" height="4.50" fill="#f23645"/><rect x="434" y="30.00" width="1.2" height="35.00" fill="#f23645"/><rect x="434" y="50.00" width="2.6" height="12.00" fill="#f23645"/><rect x="436" y="55.00" width="1.2" height="41.00" fill="#f23645"/><rect x="436" y="62.00" width="2.6" height="31.00" fill="#f23645"/><rect x="438" y="90.00" width="1.2" height="42.50" fill="#f23645"/><rect x="438" y="93.00" width="2.6" height="17.60" fill="#f23645"/><rect x="440" y="80.60" width="1.2" height="32.40" fill="#089981"/><rect x="440" y="97.50" width="2.6" height="13.10" fill="#089981"/><rect x="442" y="92.00" width="1.2" height="8.00" fill="#089981"/><rect x="442" y="96.20" width="2.6" height="1.30" fill="#089981"/><rect x="444" y="80.00" width="1.2" height="19.00" fill="#089981"/><rect x="444" y="87.50" width="2.6" height="8.70" fill="#089981"/><rect x="446" y="84.00" width="1.2" height="58.50" fill="#f23645"/><rect x="446" y="87.50" width="2.6" height="41.80" fill="#f23645"/><rect x="448" y="126.00" width="1.2" height="89.50" fill="#f23645"/><rect x="448" y="129.30" width="2.6" height="57.70" fill="#f23645"/><rect x="450" y="151.80" width="1.2" height="63.70" fill="#089981"/><rect x="450" y="159.20" width="2.6" height="27.80" fill="#089981"/><rect x="452" y="156.00" width="1.2" height="42.70" fill="#f23645"/><rect x="452" y="159.20" width="2.6" height="27.80" fill="#f23645"/><rect x="454" y="156.80" width="1.2" height="54.20" fill="#089981"/><rect x="454" y="165.50" width="2.6" height="21.50" fill="#089981"/><rect x="456" y="162.00" width="1.2" height="24.00" fill="#f23645"/><rect x="456" y="165.50" width="2.6" height="11.40" fill="#f23645"/><rect x="458" y="141.00" width="1.2" height="39.00" fill="#089981"/><rect x="458" y="150.60" width="2.6" height="26.30" fill="#089981"/><rect x="460" y="128.70" width="1.2" height="24.30" fill="#089981"/><rect x="460" y="136.20" width="2.6" height="14.40" fill="#089981"/><rect x="462" y="115.00" width="1.2" height="57.00" fill="#f23645"/><rect x="462" y="136.20" width="2.6" height="32.50" fill="#f23645"/><rect x="464" y="143.00" width="1.2" height="45.00" fill="#f23645"/><rect x="464" y="168.70" width="2.6" height="16.30" fill="#f23645"/><rect x="466" y="156.00" width="1.2" height="54.00" fill="#f23645"/><rect x="466" y="185.00" width="2.6" height="21.80" fill="#f23645"/><rect x="468" y="203.00" width="1.2" height="69.00" fill="#f23645"/><rect x="468" y="206.80" width="2.6" height="60.70" fill="#f23645"/><rect x="470" y="240.20" width="1.2" height="33.80" fill="#089981"/><rect x="470" y="255.80" width="2.6" height="11.70" fill="#089981"/><rect x="472" y="242.90" width="1.2" height="32.10" fill="#f23645"/><rect x="472" y="255.80" width="2.6" height="15.50" fill="#f23645"/><rect x="474" y="249.80" width="1.2" height="51.20" fill="#f23645"/><rect x="474" y="271.30" width="2.6" height="26.30" fill="#f23645"/><rect x="477" y="277.20" width="1.2" height="57.40" fill="#089981"/><rect x="477" y="287.40" width="2.6" height="10.20" fill="#089981"/><rect x="479" y="284.00" width="1.2" height="25.00" fill="#f23645"/><rect x="479" y="287.40" width="2.6" height="18.20" fill="#f23645"/><rect x="481" y="302.00" width="1.2" height="72.00" fill="#f23645"/><rect x="481" y="305.60" width="2.6" height="64.20" fill="#f23645"/><rect x="483" y="366.00" width="1.2" height="87.30" fill="#f23645"/><rect x="483" y="369.80" width="2.6" height="25.60" fill="#f23645"/><rect x="485" y="364.00" width="1.2" height="35.00" fill="#089981"/><rect x="485" y="367.00" width="2.6" height="28.40" fill="#089981"/><rect x="487" y="345.00" width="1.2" height="26.00" fill="#089981"/><rect x="487" y="349.00" width="2.6" height="18.00" fill="#089981"/><rect x="489" y="343.00" width="1.2" height="9.00" fill="#089981"/><rect x="489" y="346.70" width="2.6" height="2.30" fill="#089981"/><rect x="491" y="345.00" width="1.2" height="31.80" fill="#f23645"/><rect x="491" y="346.70" width="2.6" height="14.00" fill="#f23645"/><rect x="493" y="316.00" width="1.2" height="57.60" fill="#089981"/><rect x="493" y="319.00" width="2.6" height="41.70" fill="#089981"/><rect x="495" y="300.20" width="1.2" height="21.80" fill="#089981"/><rect x="495" y="308.30" width="2.6" height="10.70" fill="#089981"/><rect x="497" y="286.30" width="1.2" height="36.50" fill="#f23645"/><rect x="497" y="308.30" width="2.6" height="4.80" fill="#f23645"/><rect x="499" y="309.00" width="1.2" height="9.00" fill="#f23645"/><rect x="499" y="313.10" width="2.6" height="1.60" fill="#f23645"/><rect x="501" y="300.00" width="1.2" height="25.00" fill="#f23645"/><rect x="501" y="314.70" width="2.6" height="6.50" fill="#f23645"/><rect x="503" y="318.00" width="1.2" height="89.70" fill="#f23645"/><rect x="503" y="321.20" width="2.6" height="53.40" fill="#f23645"/><rect x="505" y="306.00" width="1.2" height="72.00" fill="#089981"/><rect x="505" y="309.40" width="2.6" height="65.20" fill="#089981"/><rect x="507" y="272.90" width="1.2" height="39.10" fill="#089981"/><rect x="507" y="282.00" width="2.6" height="27.40" fill="#089981"/><rect x="509" y="278.00" width="1.2" height="23.00" fill="#f23645"/><rect x="509" y="282.00" width="2.6" height="16.00" fill="#f23645"/><rect x="511" y="295.00" width="1.2" height="55.00" fill="#f23645"/><rect x="511" y="298.00" width="2.6" height="36.60" fill="#f23645"/><rect x="513" y="330.00" width="1.2" height="9.00" fill="#f23645"/><rect x="513" y="334.60" width="2.6" height="1.00" fill="#f23645"/><rect x="515" y="316.00" width="1.2" height="38.80" fill="#089981"/><rect x="515" y="320.00" width="2.6" height="15.60" fill="#089981"/><rect x="517" y="313.00" width="1.2" height="10.00" fill="#089981"/><rect x="517" y="317.40" width="2.6" height="2.60" fill="#089981"/><rect x="519" y="267.00" width="1.2" height="53.00" fill="#089981"/><rect x="519" y="296.00" width="2.6" height="21.40" fill="#089981"/><rect x="521" y="270.80" width="1.2" height="30.20" fill="#f23645"/><rect x="521" y="296.00" width="2.6" height="2.00" fill="#f23645"/><rect x="523" y="279.40" width="1.2" height="54.10" fill="#089981"/><rect x="523" y="296.00" width="2.6" height="2.00" fill="#089981"/><rect x="525" y="293.00" width="1.2" height="32.00" fill="#f23645"/><rect x="525" y="296.00" width="2.6" height="25.70" fill="#f23645"/><rect x="527" y="318.00" width="1.2" height="8.00" fill="#f23645"/><rect x="527" y="321.70" width="2.6" height="1.00" fill="#f23645"/><rect x="529" y="319.00" width="1.2" height="34.00" fill="#f23645"/><rect x="529" y="322.20" width="2.6" height="27.20" fill="#f23645"/><rect x="531" y="346.00" width="1.2" height="30.00" fill="#f23645"/><rect x="531" y="349.40" width="2.6" height="23.10" fill="#f23645"/><rect x="534" y="349.00" width="1.2" height="38.50" fill="#089981"/><rect x="534" y="353.20" width="2.6" height="19.30" fill="#089981"/><rect x="536" y="320.60" width="1.2" height="56.40" fill="#f23645"/><rect x="536" y="353.20" width="2.6" height="20.80" fill="#f23645"/><rect x="538" y="371.00" width="1.2" height="27.60" fill="#f23645"/><rect x="538" y="374.00" width="2.6" height="11.40" fill="#f23645"/><rect x="540" y="332.40" width="1.2" height="55.60" fill="#089981"/><rect x="540" y="348.90" width="2.6" height="36.50" fill="#089981"/><rect x="542" y="337.00" width="1.2" height="15.00" fill="#089981"/><rect x="542" y="346.20" width="2.6" height="2.70" fill="#089981"/><rect x="544" y="339.00" width="1.2" height="10.00" fill="#089981"/><rect x="544" y="342.40" width="2.6" height="3.80" fill="#089981"/><rect x="546" y="318.00" width="1.2" height="29.00" fill="#f23645"/><rect x="546" y="342.40" width="2.6" height="1.60" fill="#f23645"/><rect x="548" y="339.00" width="1.2" height="30.00" fill="#f23645"/><rect x="548" y="344.00" width="2.6" height="14.50" fill="#f23645"/><rect x="550" y="352.00" width="1.2" height="10.00" fill="#089981"/><rect x="550" y="356.40" width="2.6" height="2.10" fill="#089981"/><rect x="552" y="330.00" width="1.2" height="34.00" fill="#f23645"/><rect x="552" y="356.40" width="2.6" height="4.80" fill="#f23645"/><rect x="554" y="330.80" width="1.2" height="33.20" fill="#089981"/><rect x="554" y="352.80" width="2.6" height="8.40" fill="#089981"/><rect x="556" y="348.00" width="1.2" height="8.00" fill="#089981"/><rect x="556" y="352.00" width="2.6" height="1.00" fill="#089981"/><rect x="558" y="347.00" width="1.2" height="8.00" fill="#089981"/><rect x="558" y="351.40" width="2.6" height="1.00" fill="#089981"/><rect x="560" y="320.00" width="1.2" height="43.00" fill="#f23645"/><rect x="560" y="351.40" width="2.6" height="8.20" fill="#f23645"/><rect x="562" y="333.60" width="1.2" height="28.40" fill="#089981"/><rect x="562" y="346.00" width="2.6" height="13.60" fill="#089981"/><rect x="564" y="335.00" width="1.2" height="28.00" fill="#f23645"/><rect x="564" y="346.00" width="2.6" height="13.60" fill="#f23645"/><rect x="566" y="337.00" width="1.2" height="26.00" fill="#089981"/><rect x="566" y="340.50" width="2.6" height="19.10" fill="#089981"/><rect x="568" y="313.00" width="1.2" height="30.00" fill="#089981"/><rect x="568" y="317.30" width="2.6" height="23.20" fill="#089981"/><rect x="570" y="303.00" width="1.2" height="17.00" fill="#089981"/><rect x="570" y="306.40" width="2.6" height="10.90" fill="#089981"/><rect x="572" y="299.00" width="1.2" height="10.00" fill="#089981"/><rect x="572" y="303.00" width="2.6" height="3.40" fill="#089981"/><rect x="574" y="265.20" width="1.2" height="40.80" fill="#089981"/><rect x="574" y="277.50" width="2.6" height="25.50" fill="#089981"/><rect x="576" y="269.30" width="1.2" height="41.70" fill="#f23645"/><rect x="576" y="277.50" width="2.6" height="30.90" fill="#f23645"/><rect x="578" y="303.00" width="1.2" height="9.00" fill="#089981"/><rect x="578" y="306.40" width="2.6" height="2.00" fill="#089981"/><rect x="580" y="298.00" width="1.2" height="35.70" fill="#f23645"/><rect x="580" y="306.40" width="2.6" height="6.10" fill="#f23645"/><rect x="582" y="309.00" width="1.2" height="19.20" fill="#f23645"/><rect x="582" y="312.50" width="2.6" height="2.70" fill="#f23645"/><rect x="584" y="312.00" width="1.2" height="9.40" fill="#f23645"/><rect x="584" y="315.20" width="2.6" height="2.80" fill="#f23645"/><rect x="586" y="306.00" width="1.2" height="15.00" fill="#089981"/><rect x="586" y="309.00" width="2.6" height="9.00" fill="#089981"/><rect x="588" y="282.00" width="1.2" height="30.00" fill="#089981"/><rect x="588" y="285.00" width="2.6" height="24.00" fill="#089981"/><rect x="591" y="244.00" width="1.2" height="44.00" fill="#089981"/><rect x="591" y="258.40" width="2.6" height="26.60" fill="#089981"/><rect x="593" y="227.50" width="1.2" height="33.50" fill="#089981"/><rect x="593" y="237.30" width="2.6" height="21.10" fill="#089981"/><rect x="595" y="236.00" width="1.2" height="21.00" fill="#f23645"/><rect x="595" y="237.30" width="2.6" height="17.00" fill="#f23645"/><rect x="597" y="252.00" width="1.2" height="18.70" fill="#f23645"/><rect x="597" y="254.30" width="2.6" height="1.70" fill="#f23645"/><rect x="599" y="255.00" width="1.2" height="9.00" fill="#f23645"/><rect x="599" y="256.00" width="2.6" height="5.80" fill="#f23645"/></g>
<rect x="0" y="291.8" width="872.5" height="1.9" fill="#4a4a4a"/>
<rect x="420.9" y="291.8" width="403.6" height="1.9" fill="#847a52"/>
<line x1="0" y1="262.5" x2="872.5" y2="262.5" stroke="#f23645" stroke-opacity="0.5" stroke-width="1" stroke-dasharray="1 1"/>
<rect x="477.1" y="277.6" width="395.4" height="1.7" fill="#f0142a"/>
<rect x="587.5" y="276" width="207.0" height="16.2" fill="rgba(76,175,80,0.35)"/>
<rect x="587.5" y="277.6" width="159.29999999999995" height="1.7" fill="rgba(110,100,70,0.75)"/>
<rect x="629.9" y="187.3" width="67.89999999999998" height="107.0" fill="rgba(41,98,255,0.15)"/>
<rect x="426.2" y="186.6" width="446.3" height="1.8" fill="#f0142a"/>
<text x="585.8" y="200.8" font-size="15" fill="#4b4b4b" stroke="#4b4b4b" stroke-width="0.25" textLength="86.9" lengthAdjust="spacingAndGlyphs">Decision point</text>
<text x="746.4" y="125.8" font-size="15" fill="#4b4b4b" stroke="#4b4b4b" stroke-width="0.25" textLength="75.8" lengthAdjust="spacingAndGlyphs">TP and wait</text>
<text x="581.8" y="404.8" font-size="15" fill="#4b4b4b" stroke="#4b4b4b" stroke-width="0.25" textLength="166.7" lengthAdjust="spacingAndGlyphs">take trade until this point</text>
<line x1="340" y1="523.5" x2="872" y2="74.8" stroke="#1e5be6" stroke-width="1.5"/>
<line x1="462.4" y1="298.3" x2="636.7" y2="216.1" stroke="#111" stroke-width="1.7"/>
<line x1="483" y1="457.3" x2="648.2" y2="255.1" stroke="#111" stroke-width="1.7"/>
<polyline points="602.1,266.6 613.9,295.6 645.7,190.6 686.3,374.6" fill="none" stroke="#f23645" stroke-width="1.8" stroke-linejoin="miter"/>
<polyline points="677.6,368 686.3,374.6 692.9,363.8" fill="none" stroke="#f23645" stroke-width="1.8"/>
<polyline points="601.5,268.4 633.7,94.3 654.4,193 707.5,41.2" fill="none" stroke="#089981" stroke-width="1.8"/>
<polyline points="696.8,46.8 707.5,41.2 711.9,53.6" fill="none" stroke="#089981" stroke-width="1.8"/>
<rect x="629.3" y="293.3" width="68.5" height="1.8" fill="#1e5be6"/>
<rect x="629.9" y="187.3" width="68" height="1.8" fill="#1e5be6"/>
<line x1="663.4" y1="294" x2="663.4" y2="189" stroke="#1e5be6" stroke-width="1.6"/>
<polyline points="655.1,197.5 663.3,188.9 671.7,197.5" fill="none" stroke="#1e5be6" stroke-width="1.6"/>
<path d="M501.5,259.5 C509,248 518,243 526,243 C533,243 535,252 534.2,258.8" fill="none" stroke="#454545" stroke-width="1.9" stroke-linecap="round" stroke-linejoin="round"/>
<path d="M580.2,237.7 C584,226 588,216.3 592.2,216.3 C598,216.3 603,228 605.5,239.9" fill="none" stroke="#454545" stroke-width="1.9" stroke-linecap="round" stroke-linejoin="round"/>
<path d="M468.4,425.3 C468,438 467.5,450 468,456 C470,468 476,470.5 483,470.5 C495,470 510,467 518,461 C523,457 524.5,450 524.3,444.3" fill="none" stroke="#454545" stroke-width="1.9" stroke-linecap="round" stroke-linejoin="round"/>
<path d="M524.5,383.8 C527,392 535,400 545,404 C552,406.5 558,406.8 562,406.7 C570,405 574,398 575.1,386.8" fill="none" stroke="#454545" stroke-width="1.9" stroke-linecap="round" stroke-linejoin="round"/>
<path d="M612.1,381.7 C628,362 645,330 651.6,290 L652,283.8" fill="none" stroke="#454545" stroke-width="1.9" stroke-linecap="round" stroke-linejoin="round"/>
<path d="M644.4,285.5 C646,281 649,279.8 652,280 C657,280.5 658.6,287 658.9,292.4" fill="none" stroke="#454545" stroke-width="1.9" stroke-linecap="round" stroke-linejoin="round"/>
<path d="M649.5,277.3 L644.7,285" fill="none" stroke="#454545" stroke-width="1.9" stroke-linecap="round" stroke-linejoin="round"/>
<path d="M733.9,119.5 C724,128 717,142 714.5,158 C712,172 711,181 707,186.5 C704,189.5 700,189.5 698,188.5" fill="none" stroke="#454545" stroke-width="1.9" stroke-linecap="round" stroke-linejoin="round"/>
<path d="M700,175.6 C698,181 697,186 697.5,189 C699,194 702,197 705.6,198.4" fill="none" stroke="#454545" stroke-width="1.9" stroke-linecap="round" stroke-linejoin="round"/>
</g>
<g filter="url(#sh)"><rect x="604" y="157.4" width="118.7" height="22" rx="4" fill="#fff"/></g>
<text x="611" y="173.2" font-size="11" fill="#131722" textLength="105" lengthAdjust="spacingAndGlyphs">8,848.91 (9.57%) 884,891</text>
<path d="M714.8,155 C713,166 712,175 709.5,182" fill="none" stroke="#454545" stroke-width="1.9" stroke-linecap="round"/>
<path d="M700,175.6 C698.5,180 697.8,184 697.6,187" fill="none" stroke="#454545" stroke-width="1.9" stroke-linecap="round"/>
<text x="879.7" y="19.5" font-size="11" fill="#131722" stroke="#131722" stroke-width="0.2" textLength="45.8" lengthAdjust="spacingAndGlyphs">117,500.00</text><text x="879.7" y="69.9" font-size="11" fill="#131722" stroke="#131722" stroke-width="0.2" textLength="45.8" lengthAdjust="spacingAndGlyphs">112,500.00</text><text x="879.7" y="111.8" font-size="11" fill="#131722" stroke="#131722" stroke-width="0.2" textLength="45.8" lengthAdjust="spacingAndGlyphs">108,500.00</text><text x="879.7" y="155.3" font-size="11" fill="#131722" stroke="#131722" stroke-width="0.2" textLength="45.8" lengthAdjust="spacingAndGlyphs">104,500.00</text><text x="879.7" y="200.5" font-size="11" fill="#131722" stroke="#131722" stroke-width="0.2" textLength="45.8" lengthAdjust="spacingAndGlyphs">100,500.00</text><text x="879.7" y="247.6" font-size="11" fill="#131722" stroke="#131722" stroke-width="0.2" textLength="40.9" lengthAdjust="spacingAndGlyphs">96,500.00</text><text x="879.7" y="334.8" font-size="11" fill="#131722" stroke="#131722" stroke-width="0.2" textLength="40.9" lengthAdjust="spacingAndGlyphs">89,500.00</text><text x="879.7" y="374.3" font-size="11" fill="#131722" stroke="#131722" stroke-width="0.2" textLength="40.9" lengthAdjust="spacingAndGlyphs">86,500.00</text><text x="879.7" y="401.4" font-size="11" fill="#131722" stroke="#131722" stroke-width="0.2" textLength="40.9" lengthAdjust="spacingAndGlyphs">84,500.00</text><text x="879.7" y="429.1" font-size="11" fill="#131722" stroke="#131722" stroke-width="0.2" textLength="40.9" lengthAdjust="spacingAndGlyphs">82,500.00</text><text x="879.7" y="457.6" font-size="11" fill="#131722" stroke="#131722" stroke-width="0.2" textLength="40.9" lengthAdjust="spacingAndGlyphs">80,500.00</text><text x="879.7" y="486.7" font-size="11" fill="#131722" stroke="#131722" stroke-width="0.2" textLength="40.9" lengthAdjust="spacingAndGlyphs">78,500.00</text><text x="879.7" y="516.6" font-size="11" fill="#131722" stroke="#131722" stroke-width="0.2" textLength="40.9" lengthAdjust="spacingAndGlyphs">76,500.00</text>
<rect x="873" y="180.5" width="56.6" height="14.5" fill="#f23645"/>
<text x="879.8" y="191.6" font-size="11" fill="#fff" fill-opacity="1" textLength="46.3" lengthAdjust="spacingAndGlyphs">101,356.69</text>
<rect x="873" y="254.5" width="50.8" height="42.89999999999998" fill="#f23645"/>
<text x="879.8" y="265.4" font-size="11" fill="#fff" fill-opacity="1" textLength="41.4" lengthAdjust="spacingAndGlyphs">95,055.30</text>
<text x="879.8" y="278.2" font-size="11" fill="#fff" fill-opacity="0.85" textLength="36.2" lengthAdjust="spacingAndGlyphs">20:42:13</text>
<text x="879.8" y="293.4" font-size="11" fill="#fff" fill-opacity="1" textLength="41.4" lengthAdjust="spacingAndGlyphs">93,679.54</text>
<rect x="873" y="297.4" width="50.8" height="15.0" fill="#434343"/>
<text x="879.8" y="308.6" font-size="11" fill="#fff" fill-opacity="1" textLength="41.4" lengthAdjust="spacingAndGlyphs">92,554.10</text>
<text transform="translate(7.1,541) scale(0.8,1)" font-size="11" fill="#131722" stroke="#131722" stroke-width="0.2" text-anchor="middle">Apr</text><text transform="translate(68.3,541) scale(0.8,1)" font-size="11" fill="#131722" stroke="#131722" stroke-width="0.2" text-anchor="middle">May</text><text transform="translate(131.4,541) scale(0.8,1)" font-size="11" fill="#131722" stroke="#131722" stroke-width="0.2" text-anchor="middle">Jun</text><text transform="translate(192.5,541) scale(0.8,1)" font-size="11" fill="#131722" stroke="#131722" stroke-width="0.2" text-anchor="middle">Jul</text><text transform="translate(255.6,541) scale(0.8,1)" font-size="11" fill="#131722" stroke="#131722" stroke-width="0.2" text-anchor="middle">Aug</text><text transform="translate(318.7,541) scale(0.8,1)" font-size="11" fill="#131722" stroke="#131722" stroke-width="0.2" text-anchor="middle">Sep</text><text transform="translate(379.8,541) scale(0.8,1)" font-size="11" fill="#131722" stroke="#131722" stroke-width="0.2" text-anchor="middle">Oct</text><text transform="translate(442.9,541) scale(0.8,1)" font-size="11" fill="#131722" stroke="#131722" stroke-width="0.2" text-anchor="middle">Nov</text><text transform="translate(504.0,541) scale(0.8,1)" font-size="11" fill="#131722" stroke="#131722" stroke-width="0.2" text-anchor="middle">Dec</text><text transform="translate(567.1,541) scale(0.85,1)" font-size="11" font-weight="bold" fill="#131722" text-anchor="middle">2026</text><text transform="translate(630.2,541) scale(0.8,1)" font-size="11" fill="#131722" stroke="#131722" stroke-width="0.2" text-anchor="middle">Feb</text><text transform="translate(687.2,541) scale(0.8,1)" font-size="11" fill="#131722" stroke="#131722" stroke-width="0.2" text-anchor="middle">Mar</text><text transform="translate(750.3,541) scale(0.8,1)" font-size="11" fill="#131722" stroke="#131722" stroke-width="0.2" text-anchor="middle">Apr</text><text transform="translate(811.4,541) scale(0.8,1)" font-size="11" fill="#131722" stroke="#131722" stroke-width="0.2" text-anchor="middle">May</text>
<ellipse cx="601.3" cy="512.7" rx="7.4" ry="8.7" fill="#fff" stroke="#5a70b0" stroke-width="1.3"/>
<path d="M603.6,508.3 L599.2,513.4 L602.6,512.2 L598.9,516.9" fill="none" stroke="#5d4a86" stroke-width="1" stroke-linejoin="round"/>
</svg></body></html>
